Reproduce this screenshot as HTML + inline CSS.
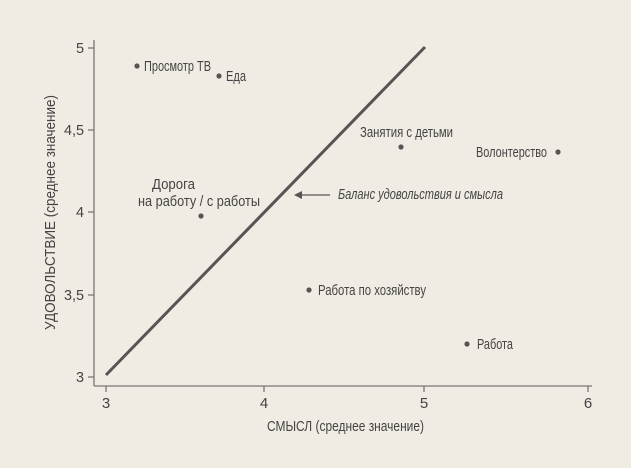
<!DOCTYPE html>
<html><head><meta charset="utf-8"><style>
html,body{margin:0;padding:0;background:#f0ece3;}
svg{display:block;}
text{font-family:"Liberation Sans",sans-serif;fill:#444;font-size:15px;}
</style></head><body>
<svg width="631" height="468" viewBox="0 0 631 468">
<rect width="631" height="468" fill="#f0ece3"/>
<g stroke="#777" stroke-width="1.3" fill="none">
<line x1="94" y1="40" x2="94" y2="386"/>
<line x1="94" y1="386" x2="592" y2="386"/>
<line x1="88" y1="48" x2="94" y2="48"/>
<line x1="88" y1="130" x2="94" y2="130"/>
<line x1="88" y1="212" x2="94" y2="212"/>
<line x1="88" y1="295" x2="94" y2="295"/>
<line x1="88" y1="377" x2="94" y2="377"/>
<line x1="106" y1="386" x2="106" y2="392"/>
<line x1="264" y1="386" x2="264" y2="392"/>
<line x1="424" y1="386" x2="424" y2="392"/>
<line x1="588" y1="386" x2="588" y2="392"/>
</g>
<g text-anchor="end">
<text x="84" y="53" textLength="8" lengthAdjust="spacingAndGlyphs">5</text>
<text x="84" y="135" textLength="20" lengthAdjust="spacingAndGlyphs">4,5</text>
<text x="84" y="217" textLength="8" lengthAdjust="spacingAndGlyphs">4</text>
<text x="84" y="300" textLength="20" lengthAdjust="spacingAndGlyphs">3,5</text>
<text x="84" y="382" textLength="8" lengthAdjust="spacingAndGlyphs">3</text>
</g>
<g text-anchor="middle">
<text x="106" y="408">3</text>
<text x="264" y="408">4</text>
<text x="424" y="408">5</text>
<text x="588" y="408">6</text>
</g>
<text x="267" y="431" textLength="157" lengthAdjust="spacingAndGlyphs">СМЫСЛ (среднее значение)</text>
<text transform="translate(55,330) rotate(-90)" textLength="235" lengthAdjust="spacingAndGlyphs">УДОВОЛЬСТВИЕ (среднее значение)</text>
<line x1="106" y1="375" x2="425" y2="47" stroke="#555" stroke-width="3"/>
<line x1="330" y1="195" x2="298" y2="195" stroke="#555" stroke-width="1.2"/>
<path d="M294 195 L302 191 L302 199 Z" fill="#555"/>
<text x="338" y="199" font-style="italic" textLength="165" lengthAdjust="spacingAndGlyphs">Баланс удовольствия и смысла</text>
<g fill="#555">
<circle cx="137" cy="66" r="2.6"/>
<circle cx="219" cy="76" r="2.6"/>
<circle cx="201" cy="216" r="2.6"/>
<circle cx="401" cy="147" r="2.6"/>
<circle cx="558" cy="152" r="2.6"/>
<circle cx="309" cy="290" r="2.6"/>
<circle cx="467" cy="344" r="2.6"/>
</g>
<text x="144" y="71" textLength="67" lengthAdjust="spacingAndGlyphs">Просмотр ТВ</text>
<text x="226" y="81" textLength="20" lengthAdjust="spacingAndGlyphs">Еда</text>
<text x="152" y="189" textLength="43" lengthAdjust="spacingAndGlyphs">Дорога</text>
<text x="138" y="206" textLength="122" lengthAdjust="spacingAndGlyphs">на работу / с работы</text>
<text x="360" y="137" textLength="93" lengthAdjust="spacingAndGlyphs">Занятия с детьми</text>
<text x="476" y="157" textLength="71" lengthAdjust="spacingAndGlyphs">Волонтерство</text>
<text x="318" y="295" textLength="108" lengthAdjust="spacingAndGlyphs">Работа по хозяйству</text>
<text x="477" y="349" textLength="36" lengthAdjust="spacingAndGlyphs">Работа</text>
</svg>
</body></html>
